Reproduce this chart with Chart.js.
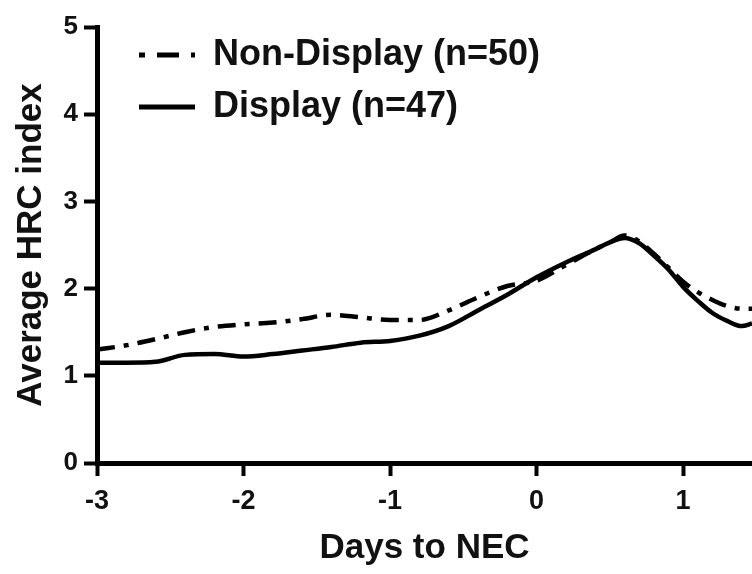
<!DOCTYPE html>
<html>
<head>
<meta charset="utf-8">
<script src="https://cdn.jsdelivr.net/npm/chart.js@4.4.1/dist/chart.umd.min.js"></script>
<style>
html,body{margin:0;padding:0;background:#fff;}
canvas{display:block;}
</style>
</head>
<body>
<canvas id="c" width="752" height="574"></canvas>
<script>
// ---- data ----
const days = [-3, -2.8, -2.6, -2.4, -2.2, -2.0, -1.8, -1.6, -1.4, -1.2, -1.0, -0.8, -0.6, -0.4, -0.2, 0, 0.2, 0.4, 0.5, 0.6, 0.7, 0.8, 0.9, 1.0, 1.1, 1.2, 1.3, 1.4, 1.47];
const nonDisplay = [1.30, 1.35, 1.42, 1.50, 1.56, 1.59, 1.61, 1.65, 1.70, 1.67, 1.64, 1.64, 1.75, 1.90, 2.03, 2.09, 2.27, 2.45, 2.53, 2.61, 2.54, 2.40, 2.24, 2.08, 1.96, 1.87, 1.80, 1.77, 1.77];
const display = [1.15, 1.15, 1.16, 1.24, 1.25, 1.22, 1.25, 1.29, 1.33, 1.38, 1.40, 1.46, 1.57, 1.75, 1.93, 2.13, 2.30, 2.45, 2.53, 2.58, 2.52, 2.38, 2.22, 2.02, 1.86, 1.72, 1.63, 1.57, 1.60];
const seriesNames = ['Non-Display (n=50)', 'Display (n=47)'];
const xTickValues = [-3, -2, -1, 0, 1];
const xTickLabels = ['-3', '-2', '-1', '0', '1'];
const yTickValues = [0, 1, 2, 3, 4, 5];

const FONT = "'Liberation Sans', Arial, sans-serif";
const INK = '#111';

const toPts = (ys) => days.map((d, i) => ({x: d, y: ys[i]}));

const legendPos = {
  id: 'legendPos',
  afterLayout(chart) {
    const l = chart.legend;
    if (!l) return;
    l.left = 123;
    l.top = 21;
    l.right = l.left + l.width;
    l.bottom = l.top + 300;
  }
};

new Chart(document.getElementById('c'), {
  type: 'line',
  data: {
    datasets: [
      {
        label: seriesNames[0],
        data: toPts(nonDisplay),
        borderColor: '#000',
        borderWidth: 4.5,
        borderDash: [18, 9, 5, 9],
        pointRadius: 0,
        fill: false,
        cubicInterpolationMode: 'monotone'
      },
      {
        label: seriesNames[1],
        data: toPts(display),
        borderColor: '#000',
        borderWidth: 4.5,
        pointRadius: 0,
        fill: false,
        cubicInterpolationMode: 'monotone'
      }
    ]
  },
  options: {
    responsive: false,
    animation: false,
    devicePixelRatio: 1,
    layout: {padding: {top: 27, right: 0, bottom: 0, left: 0}},
    plugins: {
      tooltip: {enabled: false},
      legend: {
        position: 'chartArea',
        align: 'start',
        labels: {
          usePointStyle: true,
          pointStyleWidth: 56,
          padding: 16,
          color: INK,
          font: {family: FONT, size: 36, weight: 'bold'},
          generateLabels(chart) {
            return chart.data.datasets.map((ds, i) => ({
              text: ds.label,
              fillStyle: '#000',
              strokeStyle: '#000',
              lineWidth: 5,
              lineDash: i === 0 ? [6, 12, 22, 12] : [],
              lineDashOffset: 0,
              lineCap: 'butt',
              pointStyle: 'line',
              fontColor: INK,
              hidden: false,
              datasetIndex: i
            }));
          }
        }
      }
    },
    scales: {
      x: {
        type: 'linear',
        min: -3,
        max: 1.47,
        afterFit(scale) { scale.height = 111; },
        afterBuildTicks(scale) { scale.ticks = xTickValues.map(v => ({value: v})); },
        grid: {display: true, drawOnChartArea: false, drawTicks: true, tickLength: 13, tickWidth: 4, tickColor: '#000'},
        border: {display: true, width: 5, color: '#000'},
        ticks: {
          color: INK,
          padding: 9,
          maxRotation: 0,
          font: {family: FONT, size: 27, weight: 'bold'},
          callback(v) { const k = xTickValues.indexOf(v); return k >= 0 ? xTickLabels[k] : ''; }
        },
        title: {
          display: true,
          text: 'Days to NEC',
          color: INK,
          font: {family: FONT, size: 35, weight: 'bold'},
          padding: {top: 0, bottom: 5}
        }
      },
      y: {
        type: 'linear',
        min: 0,
        max: 5,
        afterFit(scale) { scale.width = 97; },
        afterBuildTicks(scale) { scale.ticks = yTickValues.map(v => ({value: v})); },
        grid: {display: true, drawOnChartArea: false, drawTicks: true, tickLength: 13, tickWidth: 4, tickColor: '#000'},
        border: {display: true, width: 5, color: '#000'},
        ticks: {
          color: INK,
          padding: 6,
          font: {family: FONT, size: 26, weight: 'bold'}
        },
        title: {
          display: true,
          text: 'Average HRC index',
          color: INK,
          font: {family: FONT, size: 35, weight: 'bold'},
          padding: {top: 10, bottom: 0}
        }
      }
    }
  },
  plugins: [legendPos]
});
</script>
</body>
</html>
